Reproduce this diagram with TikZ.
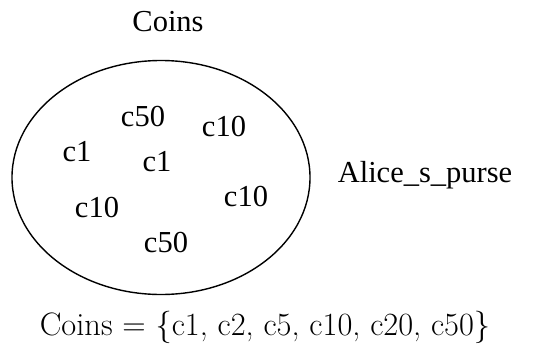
\documentclass[tikz,border=0pt]{standalone}
\usepackage{fontspec}
\newfontfamily\timesfont{Liberation Serif}
\usetikzlibrary{positioning, shapes.geometric}

\tikzset{
  coin/.style={font=\timesfont\fontsize{30.5}{35}\selectfont, inner sep=0pt},
  purse/.style={draw, ellipse, line width=1.4pt, inner sep=0pt}
}

\begin{document}
\begin{tikzpicture}[x=1pt, y=-1pt]
  \useasboundingbox (0,0) rectangle (533,346);

  \node[purse, minimum width=298pt, minimum height=234pt] (bag) at (161,177.5) {};
  \node[coin] (title) at (168,22) {Coins};
  \node[coin] (owner) at (425,175) {Alice\_s\_purse};

  \node[coin] (k1) at (143,117) {c50};
  \node[coin] (k2) at (224,127) {c10};
  \node[coin] (k3) at (77,152) {c1};
  \node[coin] (k4) at (157,162) {c1};
  \node[coin] (k5) at (246,197) {c10};
  \node[coin] (k6) at (97,208) {c10};
  \node[coin] (k7) at (166,243) {c50};

  \node[font=\fontsize{32.4}{38}\selectfont, inner sep=0pt] (set) at (265,327)
    {Coins = \{c1, c2, c5, c10, c20, c50\}};
\end{tikzpicture}
\end{document}
